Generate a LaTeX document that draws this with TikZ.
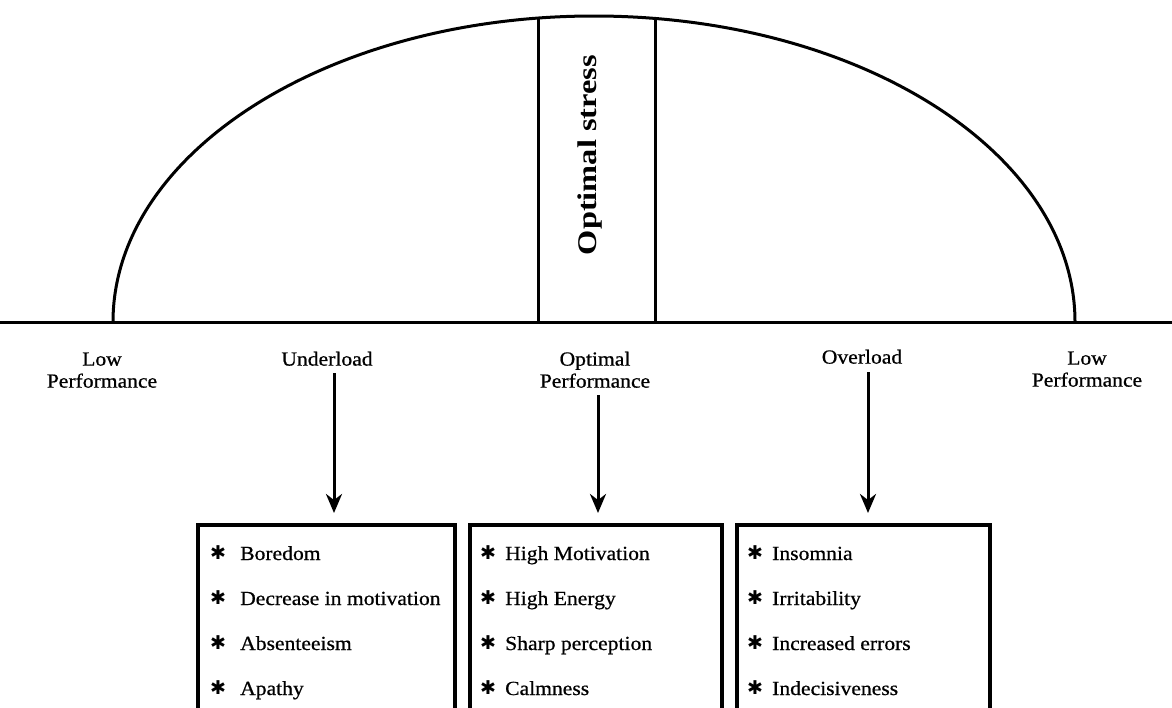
\documentclass[tikz,border=0pt]{standalone}
\usepackage{fontspec}
\setmainfont{Liberation Serif}[FakeStretch=1.08,FakeBold=0.7]
\newfontfamily\titlefont{Liberation Serif}[FakeStretch=1.2]
\newfontfamily\symfont{DejaVu Sans}
\usetikzlibrary{arrows.meta,calc}
\begin{document}
\begin{tikzpicture}[x=1pt,y=-1pt,
  lbl/.style={font=\fontsize{20}{22}\selectfont, align=center, inner sep=0pt, anchor=south},
  item/.style={font=\fontsize{20}{22}\selectfont, anchor=base west, inner sep=0pt},
  bul/.style={font=\symfont\fontsize{19}{19}\selectfont, anchor=center, inner sep=0pt},
  listbox/.style={draw, line width=3.5pt, anchor=north west, inner sep=0pt, outer sep=0pt, minimum height=200pt},
  arr/.style={line width=3pt, -{Stealth[length=19pt,width=16pt,inset=6pt]}},
  curve/.style={line width=3pt}]
\useasboundingbox (0,0) rectangle (1172,707);
\clip (0,0) rectangle (1172,707);
\fill[white] (0,0) rectangle (1172,707);

% axis and curve
\draw[curve] (0,322) -- (1172,322);
\draw[curve] (113,322) arc[start angle=180, end angle=360, x radius=481, y radius=306];
\draw[curve] (538,322) -- (538,17);
\draw[curve] (655,322) -- (655,17);
\node[rotate=90, inner sep=0pt, font=\titlefont\bfseries\fontsize{27}{30}\selectfont] (ostress) at (590,155) {Optimal stress};

% labels
\node[lbl] (lowL) at (102,388) {Low\\Performance};
\node[lbl] (under) at (327,366) {Underload};
\node[lbl] (opt) at (595,388) {Optimal\\Performance};
\node[lbl] (over) at (862,364) {Overload};
\node[lbl] (lowR) at (1087,387) {Low\\Performance};

% boxes
\node[listbox, minimum width=257pt] (box1) at (198,525) {};
\node[listbox, minimum width=252pt] (box2) at (470,525) {};
\node[listbox, minimum width=253pt] (box3) at (737,525) {};

% arrows
\draw[arr] ($(under.south)+(7,7)$) -- ($(under.south |- box1.north)+(7,-12)$);
\draw[arr] ($(opt.south)+(3,7)$) -- ($(opt.south |- box2.north)+(3,-12)$);
\draw[arr] ($(over.south)+(6,8)$) -- ($(over.south |- box3.north)+(6,-12)$);

% items
\foreach \t [count=\i] in {Boredom, Decrease in motivation, Absenteeism, Apathy}{
  \node[bul] (ba\i) at (218,553+45*\i-45) {✱};
  \node[item] (ta\i) at (240,560+45*\i-45) {\t};
}
\foreach \t [count=\i] in {High Motivation, High Energy, Sharp perception, Calmness}{
  \node[bul] (bb\i) at (488,553+45*\i-45) {✱};
  \node[item] (tb\i) at (505,560+45*\i-45) {\t};
}
\foreach \t [count=\i] in {Insomnia, Irritability, Increased errors, Indecisiveness}{
  \node[bul] (bc\i) at (755,553+45*\i-45) {✱};
  \node[item] (tc\i) at (772,560+45*\i-45) {\t};
}
\end{tikzpicture}
\end{document}
